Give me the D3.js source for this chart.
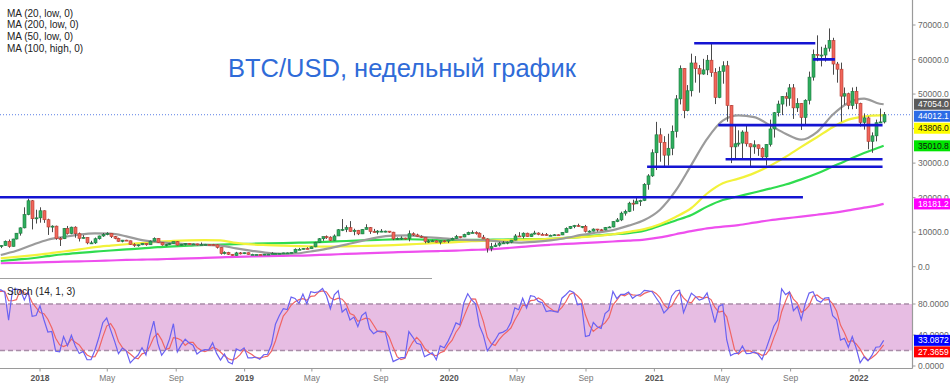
<!DOCTYPE html>
<html><head><meta charset="utf-8">
<script src="https://cdn.jsdelivr.net/npm/d3@7"></script>
<style>
body{margin:0;background:#fff;}
svg{display:block;font-family:"Liberation Sans",Arial,sans-serif;}
</style></head><body>
<svg id="c" width="950" height="387"></svg>
<script>
// ---- weekly candles (first week = 2017-07-17, weekly steps) ----
const firstWeek = "2017-07-17";
const firstOpen = 1950;
const highs = [
2900,2900,3300,4200,4480,4400,4980,4700,4350,4150,4450,4650,5850,6200,
6200,7600,7890,8100,9750,11400,17200,19700,19300,16500,
17200,16300,13900,12000,11900,8600,11200,11800,11600,11700,9900,9150,8500,7500,8450,9000,9750,9990,9700,8900,8400,7750,7800,7560,6800,6400,6800,6800,7600,8500,8300,7150,6600,6900,7300,7400,6600,6800,6800,6700,6650,7000,6600,6500,6600,6450,5650,4450,4300,3650,4300,4250,4100,
4100,3750,3650,3600,3700,3700,4200,3950,3950,4050,4100,4150,5300,5450,5400,5650,5850,7200,8300,8700,9050,8800,9350,10900,13800,12000,13200,11000,10650,10900,12300,11500,10950,10600,10900,10450,10300,10100,8500,8800,8400,10500,9950,9550,9100,8500,7850,7800,7650,7550,7700,7800,
8450,9200,8750,9550,10150,10500,10250,9950,9200,8200,6900,6950,7200,7450,7300,7750,9450,10000,9950,9850,9600,10400,9950,9800,9750,9300,9450,9350,10000,11400,11800,12100,12450,11750,12100,10550,11100,10950,10950,11500,11700,13200,14100,15950,16500,18800,19400,19900,19400,24200,26800,34000,
41950,40100,37800,38500,40900,49700,58300,57500,52600,61700,61000,58400,60200,61300,64850,57500,57900,59500,59600,46800,40900,39500,39500,41300,35700,36600,35400,34600,35500,42600,44800,48100,49400,50500,52900,52900,48800,47400,48500,56500,62900,67000,63700,64300,69000,66300,59300,59100,51900,50400,51900,52100,
47500,44400,43500,38900,42600,45800,44800];
const lows = [
1830,2450,2650,3200,3800,3950,4300,4000,2980,3500,3750,4150,4550,5100,
5380,6040,5500,5850,7900,9000,11100,14900,10800,12500,
12750,12700,9200,10000,7800,6000,8000,9300,9400,8400,7300,8150,6500,6600,6600,7850,8650,9100,8300,7950,7250,7050,7450,6300,5750,5800,6250,6070,6330,7350,6900,6100,5900,6250,6650,6150,6150,6150,6400,6500,6150,6300,6400,6250,6300,5250,3500,3550,3400,3150,3200,3550,3650,
3500,3500,3500,3380,3350,3550,3650,3700,3700,3800,3950,3900,4100,4950,5000,5050,5200,5650,6900,7500,8050,7450,7550,8900,10300,10000,10100,9100,9150,9450,10800,9500,9900,9350,10000,9950,9800,7700,7800,7800,7900,7350,8900,8700,8350,6800,6850,7250,7050,6450,7050,6850,
7650,8100,8250,8550,9150,9700,9300,8500,8000,4100,4450,5700,5850,6750,6500,6800,7650,8700,8200,8650,8650,9300,9100,9200,8900,8950,9050,9050,9150,9900,10900,11150,11550,11150,9900,9900,10200,10150,10400,10550,11200,11400,12900,13200,14800,15800,16200,18200,17600,19000,22300,26000,
28000,30400,28800,29300,32300,37400,47000,43000,45000,49300,53300,50400,55600,55500,55000,47100,48800,53000,42000,30000,31200,34800,31000,34800,28800,32700,32100,31000,29300,34800,37400,43500,43900,46400,46600,42800,44800,39600,40800,47000,53900,59500,58000,59400,62300,55600,53300,42000,46900,45600,45600,45700,
40600,39700,34000,32991.14,36300,41600,41500];
const closes = [
2750,2870,3250,4100,4100,4350,4600,4200,3700,3800,4400,4600,5700,6000,
6140,7360,5880,8020,9700,11250,15100,19100,13900,14150,
16200,13600,11500,11750,8200,8100,11100,9600,11450,9550,8200,8500,6900,6900,8100,8900,9350,9650,8700,8200,7350,7700,7500,6450,6150,6350,6750,6350,7400,8200,7000,6300,6400,6700,7250,6250,6500,6700,6600,6600,6300,6400,6450,6400,6350,5600,3800,4100,3600,3250,4000,3900,4050,
3550,3550,3550,3450,3650,3650,3850,3850,3900,4000,4000,4150,5050,5050,5300,5200,5750,7000,8100,8700,8550,7650,8900,10700,10800,11300,10200,10550,9500,10800,11300,10200,10100,10300,10300,10300,10000,8050,8150,8300,8200,9550,9200,8800,8500,7300,7400,7500,7100,7500,7400,7750,
8200,8700,8600,9300,9900,9900,9700,8550,8050,5350,5800,6250,6800,6900,7100,7700,8900,8750,9700,8700,9450,9750,9350,9300,9000,9100,9250,9200,9950,11100,11700,11900,11650,11700,10250,10300,10900,10700,10650,11350,11500,13050,13550,15500,16000,18400,18200,19000,19150,23850,26300,33000,
38200,36000,32300,34300,39200,48600,57400,45200,50950,59000,57350,55800,57000,59800,56200,49000,56600,58200,46700,34700,35600,35800,39000,35600,34700,35300,34250,31800,35400,39900,44600,47100,49300,48800,51800,46000,47300,43200,48200,54900,61500,61300,61300,63300,65500,58700,57200,49400,50100,46700,50800,47300,
41800,43100,36300,37900,41700,41930.4,44012.1];

const maWeeks = [14,18,22,26,30,34,38,42,46,50,54,58,62,66,70,74,78,82,86,90,94,98,102,106,110,114,118,122,126,130,134,138,142,146,150,154,158,162,166,170,174,178,182,186,190,194,198,202,206,210,214,218,222,226,230,234,238,239];
const ma20 = [3400,4600,6300,7800,8600,9300,9650,9600,8800,7700,7100,6800,6500,6300,6100,5300,4600,4000,3700,3900,4600,5400,6400,7500,8500,9000,9100,8600,8300,7900,7700,7600,7200,7000,7200,7600,8300,9200,9900,10600,11900,13500,16500,22000,29500,37000,42300,43800,43300,41000,38500,36800,39000,44000,47500,48700,47200,47054];
const ma200 = [1000,1100,1200,1350,1450,1550,1650,1800,1950,2050,2150,2280,2400,2550,2700,2850,2950,3050,3150,3200,3350,3500,3700,3850,4000,4150,4300,4420,4550,4650,4850,5000,5300,5650,6050,6350,6600,6800,7050,7300,7550,7850,8500,9400,10300,11100,11600,12050,12750,13450,14000,14500,15050,15600,16300,17100,17900,18181.2];
const ma50 = [2450,2850,3300,3800,4400,5000,5650,6100,6500,6850,7200,7500,7650,7700,7600,6900,6450,6250,6080,5950,5850,5800,5900,6000,6100,6250,6450,6700,6900,7100,7400,7550,7700,7800,7900,8100,8350,8550,8900,9400,10100,10900,12300,14400,17000,21200,24150,25500,27100,29200,31800,34700,37500,40400,42600,43500,43800,43806];
const ma100 = [1650,2050,2450,3050,3600,4000,4350,4700,5000,5300,5650,5900,6100,6300,6400,6550,6650,6750,6850,6950,7050,7250,7450,7600,7750,7900,7950,7850,7650,7700,7750,7800,7850,7950,8000,8100,8350,8650,9100,9400,9700,10400,11900,13400,15000,17400,19300,20400,21500,22600,23800,25300,27000,29000,31000,32900,34600,35010.8];

// ---- horizontal levels drawn on the chart ----
const levelValues = [20100, 64700, 60050, 41000, 31100, 28950];
const levelStart = ["2017-10-20","2021-03-13","2021-10-11","2021-04-25","2021-05-08","2020-12-19"];
const levelEnd   = ["2021-09-23","2021-10-15","2021-11-19","2022-02-12","2022-02-12","2022-02-12"];

const priceTicks = [0,10000,20000,30000,40000,50000,60000,70000];
const stochTicks = [0,40,80];
const stochBands = [20,80];
const timeTicks = ["2018-01-01","2018-05-01","2018-09-01","2019-01-01","2019-05-01","2019-09-01","2020-01-01","2020-05-01","2020-09-01","2021-01-01","2021-05-01","2021-09-01","2022-01-01"];
const legendItems = ["MA (20, low, 0)","MA (200, low, 0)","MA (50, low, 0)","MA (100, high, 0)"];
const titleText = "BTC/USD, недельный график";
const stochTitle = "Stoch (14, 1, 3)";
const stochK = 14, stochD = 3;

// ---- scales ----
const svg = d3.select("#c");
const R = 912.5;
const parse = d3.utcParse("%Y-%m-%d");
const x = d3.scaleUtc().domain([parse("2018-01-01"), parse("2022-01-01")]).range([40, 859]);
const y = d3.scaleLinear().domain([0, 70000]).range([266.7, 25]);
const ys = d3.scaleLinear().domain([0, 80]).range([366, 304]);

const t0 = parse(firstWeek);
const candles = closes.map((c,i)=>({date:d3.utcDay.offset(t0,7*i), o: i?closes[i-1]:firstOpen, h:highs[i], l:lows[i], c}));
const maDates = maWeeks.map(i=>d3.utcDay.offset(t0,7*i));

const defs = svg.append("defs");
defs.append("clipPath").attr("id","cm").append("rect").attr("x",0).attr("y",0).attr("width",R).attr("height",277);
defs.append("clipPath").attr("id","cs").append("rect").attr("x",0).attr("y",280).attr("width",R).attr("height",88);

// ---- stoch panel background ----
const sp = svg.append("g").attr("clip-path","url(#cs)");
sp.append("rect").attr("x",0).attr("width",R).attr("y",ys(stochBands[1])).attr("height",ys(stochBands[0])-ys(stochBands[1])).attr("fill","#e7bde3");
sp.selectAll("line.band").data(stochBands).join("line").attr("x1",0).attr("x2",R)
  .attr("y1",d=>ys(d)).attr("y2",d=>ys(d)).attr("stroke","#a98ca8").attr("stroke-width",1.3).attr("stroke-dasharray","5,3");

// stoch computation
const K = candles.map((d,i)=>{const s=Math.max(0,i-stochK+1);const hh=d3.max(highs.slice(s,i+1)),ll=d3.min(lows.slice(s,i+1));return 100*(d.c-ll)/(hh-ll);});
const D = K.map((k,i)=>d3.mean(K.slice(Math.max(0,i-stochD+1),i+1)));
const sline = arr => d3.line().x((d,i)=>x(candles[i].date)).y(d=>ys(d))(arr);
sp.append("path").attr("d",sline(D)).attr("fill","none").attr("stroke","#f06464").attr("stroke-width",1.2);
sp.append("path").attr("d",sline(K)).attr("fill","none").attr("stroke","#6a62f2").attr("stroke-width",1.2);

// ---- main panel ----
const mp = svg.append("g").attr("clip-path","url(#cm)");
mp.append("line").attr("x1",0).attr("x2",R).attr("y1",y(closes[closes.length-1])).attr("y2",y(closes[closes.length-1]))
  .attr("stroke","#5b7fe6").attr("stroke-width",1).attr("stroke-dasharray","1,2");

const maLine = d3.line().x((d,i)=>x(maDates[i])).y(d=>y(d)).curve(d3.curveMonotoneX);
[[ma200,"#ee4fee"],[ma100,"#2fdc4f"],[ma50,"#f2f23a"],[ma20,"#9b9b9b"]].forEach(([a,c])=>{
  mp.append("path").attr("d",maLine(a)).attr("fill","none").attr("stroke",c).attr("stroke-width",2.2);
});

// candles
const cg = mp.append("g");
cg.selectAll("line.w").data(candles).join("line")
  .attr("x1",d=>Math.round(x(d.date))+0.5).attr("x2",d=>Math.round(x(d.date))+0.5)
  .attr("y1",d=>y(d.h)).attr("y2",d=>y(d.l)).attr("stroke","#4a4a4a").attr("stroke-width",1);
cg.selectAll("rect.b").data(candles).join("rect")
  .attr("x",d=>Math.round(x(d.date))+0.5-1.5).attr("width",3)
  .attr("y",d=>y(Math.max(d.o,d.c))).attr("height",d=>Math.max(1,Math.abs(y(d.o)-y(d.c))))
  .attr("fill",d=>d.c>=d.o?"#2fae5e":"#f0665a")
  .attr("stroke",d=>d.c>=d.o?"#1b7a3f":"#b53a30").attr("stroke-width",0.6);

// levels
mp.selectAll("line.lv").data(levelValues).join("line")
  .attr("x1",(d,i)=>x(parse(levelStart[i]))).attr("x2",(d,i)=>x(parse(levelEnd[i])))
  .attr("y1",d=>y(d)).attr("y2",d=>y(d)).attr("stroke","#1414d2").attr("stroke-width",2.6);

// separator under main panel
svg.append("line").attr("x1",0).attr("x2",432).attr("y1",278.5).attr("y2",278.5).attr("stroke","#a0a0a0").attr("stroke-width",1.2);

// ---- axes ----
svg.append("line").attr("x1",R).attr("x2",R).attr("y1",0).attr("y2",368.5).attr("stroke","#9a9a9a").attr("stroke-width",1.2);
svg.append("line").attr("x1",0).attr("x2",R).attr("y1",368.5).attr("y2",368.5).attr("stroke","#9a9a9a").attr("stroke-width",1.2);

const fmt1 = d3.format(".1f"), fmt4 = d3.format(".4f");
const ax = svg.append("g").attr("font-size","8.5px").attr("fill","#666");
priceTicks.forEach(v=>{
  ax.append("line").attr("x1",R).attr("x2",R+3).attr("y1",y(v)).attr("y2",y(v)).attr("stroke","#999");
  ax.append("text").attr("x",918).attr("y",y(v)).attr("dy","0.35em").text(fmt1(v));
});
stochTicks.forEach(v=>{
  ax.append("line").attr("x1",R).attr("x2",R+3).attr("y1",ys(v)).attr("y2",ys(v)).attr("stroke","#999");
  ax.append("text").attr("x",918).attr("y",ys(v)).attr("dy","0.35em").text(fmt4(v));
});
const mfmt = d3.utcFormat("%b");
timeTicks.forEach(s=>{
  const d = parse(s), px = x(d), isYear = d.getUTCMonth()===0;
  ax.append("line").attr("x1",px).attr("x2",px).attr("y1",368.5).attr("y2",371.5).attr("stroke","#999");
  ax.append("text").attr("x",px).attr("y",381).attr("text-anchor","middle")
    .attr("font-weight",isYear?"bold":"normal").attr("fill",isYear?"#555":"#777")
    .text(isYear?d.getUTCFullYear():mfmt(d));
});

// ---- right value labels ----
function placeLabels(items, scale, gap){
  items.forEach(d=>d.y=scale(d.v));
  items.sort((a,b)=>a.y-b.y);
  for(let i=1;i<items.length;i++) if(items[i].y<items[i-1].y+gap) items[i].y=items[i-1].y+gap;
  return items;
}
const lastI = closes.length-1;
const pLabels = placeLabels([
  {v:ma20[ma20.length-1], bg:"#5c5c5c", fg:"#fff", f:fmt1},
  {v:closes[lastI], bg:"#2d6ce6", fg:"#fff", f:fmt1},
  {v:ma50[ma50.length-1], bg:"#ffff00", fg:"#111", f:fmt1},
  {v:ma100[ma100.length-1], bg:"#00e400", fg:"#111", f:fmt1},
  {v:ma200[ma200.length-1], bg:"#ff00ff", fg:"#fff", f:fmt1}
], y, 12);
const sLabels = placeLabels([
  {v:K[lastI], bg:"#0000ff", fg:"#fff", f:fmt4},
  {v:D[lastI], bg:"#ff0000", fg:"#fff", f:fmt4}
], ys, 11.5);
const lg = svg.append("g").attr("font-size","8.5px");
pLabels.concat(sLabels).forEach(d=>{
  lg.append("rect").attr("x",914).attr("y",d.y-5.5).attr("width",36).attr("height",11).attr("fill",d.bg);
  lg.append("text").attr("x",918).attr("y",d.y).attr("dy","0.35em").attr("fill",d.fg).text(d.f(d.v));
});

// ---- texts ----
const tg = svg.append("g").attr("font-size","10px").attr("fill","#222");
legendItems.forEach((t,i)=>tg.append("text").attr("x",7).attr("y",16.5+i*11.8).text(t));
tg.append("text").attr("x",7).attr("y",294.5).text(stochTitle);
svg.append("text").attr("x",228).attr("y",77).attr("font-size","25.5px").attr("fill","#2f6bd8").text(titleText);
</script>
</body></html>
